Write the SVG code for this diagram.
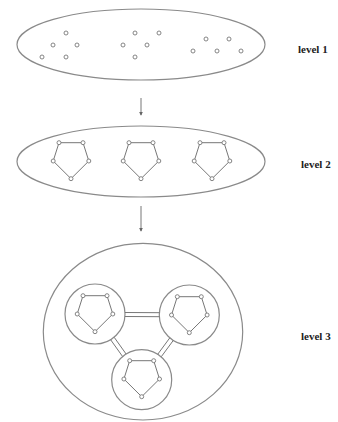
<svg xmlns="http://www.w3.org/2000/svg" width="338" height="422" viewBox="0 0 338 422">
<style>
.outline{fill:none;stroke:#8a8a8a;stroke-width:1.2}
.edge{fill:none;stroke:#777;stroke-width:1}
.dot{fill:#fff;stroke:#777;stroke-width:0.9}
.lbl{font-family:"Liberation Serif",serif;font-weight:bold;font-size:11px;fill:#222}
.conn{fill:none;stroke:#777;stroke-width:1}
</style>
<defs>
<marker id="ah" viewBox="0 0 6 6" refX="5" refY="3" markerWidth="4" markerHeight="4" orient="auto">
<path d="M0,0 L6,3 L0,6 Z" fill="#666"/>
</marker>
<g id="pent">
<polygon class="edge" points="-12,-18.3 12,-18.3 17.8,0 0,17.7 -17.8,0"/>
<circle class="dot" cx="-12" cy="-18.3" r="2"/>
<circle class="dot" cx="12" cy="-18.3" r="2"/>
<circle class="dot" cx="17.8" cy="0" r="2"/>
<circle class="dot" cx="0" cy="17.7" r="2"/>
<circle class="dot" cx="-17.8" cy="0" r="2"/>
</g>
</defs>
<rect width="338" height="422" fill="#fff"/>

<g id="level1">
<ellipse class="outline" cx="141" cy="44.5" rx="124" ry="35.5"/>
<circle class="dot" cx="66" cy="33" r="2"/>
<circle class="dot" cx="53" cy="45" r="2"/>
<circle class="dot" cx="77" cy="45" r="2"/>
<circle class="dot" cx="42" cy="57" r="2"/>
<circle class="dot" cx="66" cy="57" r="2"/>
<circle class="dot" cx="135" cy="33" r="2"/>
<circle class="dot" cx="159" cy="33" r="2"/>
<circle class="dot" cx="123" cy="45" r="2"/>
<circle class="dot" cx="147" cy="45" r="2"/>
<circle class="dot" cx="135" cy="57" r="2"/>
<circle class="dot" cx="206" cy="39" r="2"/>
<circle class="dot" cx="229" cy="39" r="2"/>
<circle class="dot" cx="193" cy="51" r="2"/>
<circle class="dot" cx="217" cy="51" r="2"/>
<circle class="dot" cx="241" cy="51" r="2"/>
<text class="lbl" x="298" y="53">level 1</text>
</g>

<g id="level2">
<ellipse class="outline" cx="141" cy="161.5" rx="124" ry="35.5"/>
<use href="#pent" x="71" y="161"/>
<use href="#pent" x="141" y="161"/>
<use href="#pent" x="212" y="161"/>
<text class="lbl" x="301" y="168">level 2</text>
</g>

<g id="level3">
<ellipse class="outline" cx="143" cy="331.7" rx="99.7" ry="88.3"/>
<g id="cluster1">
<circle class="outline" cx="95" cy="314" r="30"/>
<use href="#pent" x="95" y="314"/>
</g>
<g id="cluster2">
<circle class="outline" cx="189.3" cy="315" r="30"/>
<use href="#pent" x="189.3" y="315"/>
</g>
<g id="cluster3">
<circle class="outline" cx="141.7" cy="379.7" r="30"/>
<use href="#pent" x="141.7" y="379"/>
</g>
<text class="lbl" x="301" y="340">level 3</text>
</g>

<g id="connectors">
<line class="conn" x1="141" y1="98" x2="141" y2="115" marker-end="url(#ah)"/>
<line class="conn" x1="141" y1="206" x2="141" y2="231" marker-end="url(#ah)"/>
<line class="conn" x1="125" y1="312.5" x2="159.5" y2="312.7"/>
<line class="conn" x1="125" y1="316.5" x2="159.5" y2="316.7"/>
<line class="conn" x1="110.6" y1="339.7" x2="122.5" y2="356.4"/>
<line class="conn" x1="114.2" y1="337.3" x2="126.1" y2="354.0"/>
<line class="conn" x1="169.7" y1="338.0" x2="157.7" y2="354.3"/>
<line class="conn" x1="173.3" y1="340.4" x2="161.3" y2="356.7"/>
</g>
</svg>
